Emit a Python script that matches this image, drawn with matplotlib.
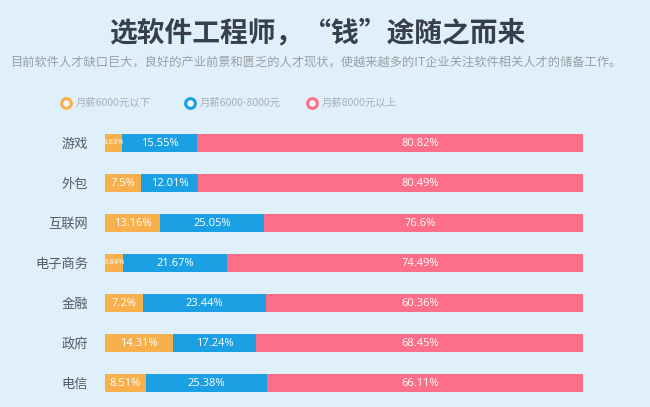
import matplotlib.pyplot as plt, numpy as np

plt.rcParams['font.family'] = ['Noto Sans CJK SC', 'DejaVu Sans']

categories = ['游戏', '外包', '互联网', '电子商务', '金融', '政府', '电信']
low = [3.63, 7.5, 13.16, 3.84, 7.2, 14.31, 8.51]       # 月薪6000元以下
mid = [15.55, 12.01, 25.05, 21.67, 23.44, 17.24, 25.38]  # 月薪6000-8000元
high = [80.82, 80.49, 76.6, 74.49, 60.36, 68.45, 66.11]  # 月薪8000元以上
series_names = ['月薪6000元以下', '月薪6000-8000元', '月薪8000元以上']
colors = ['#f8b04c', '#1ba0e4', '#fd6f89']

title = '选软件工程师，“钱”途随之而来'
subtitle = '目前软件人才缺口巨大，良好的产业前景和匮乏的人才现状，使越来越多的IT企业关注软件相关人才的储备工作。'

low_a, mid_a, high_a = np.array(low), np.array(mid), np.array(high)
tot = low_a + mid_a + high_a
# each bar fills the full width
parts = [low_a / tot * 100, mid_a / tot * 100, high_a / tot * 100]
raw = [low, mid, high]

fig = plt.figure(figsize=(6.5, 4.07), dpi=100)
fig.patch.set_facecolor('#dff0fb')

# overlay in pixel coords for title / legend
ov = fig.add_axes([0, 0, 1, 1])
ov.set_xlim(0, 650); ov.set_ylim(407, 0); ov.axis('off')
ov.text(317, 33, title, ha='center', va='center', fontsize=20, fontweight='bold', color='#363f4a')
ov.text(316, 62, subtitle, ha='center', va='center', fontsize=8.8, color='#9a9fa5')
leg_x = [66, 190, 312]
for x, name, c in zip(leg_x, series_names, colors):
    ov.plot(x, 103, 'o', ms=7, mfc='#eef6fb', mec=c, mew=2.2)
    ov.text(x + 10, 103, name, ha='left', va='center', fontsize=7.5, color='#a9b0b6')

ax = fig.add_axes([105/650, 1 - 403/407, 478/650, 280/407])
ax.set_facecolor('none')
y = np.arange(len(categories))
left = np.zeros(len(categories))
for k, (p, c) in enumerate(zip(parts, colors)):
    ax.barh(y, p, left=left, height=0.46, color=c, edgecolor='none')
    for i in range(len(categories)):
        v = raw[k][i]
        label = f'{v:g}%'
        if k == 2:
            xc = 66
        else:
            xc = left[i] + p[i] / 2
        fs = 5.5 if v < 5 else 8
        ax.text(xc, y[i], label, ha='center', va='center', fontsize=fs, color='white',
                family=['Open Sans', 'DejaVu Sans'])
    left = left + p

ax.set_xlim(0, 100)
ax.set_ylim(len(categories) - 0.5, -0.5)
ax.set_yticks(y)
ax.set_yticklabels(categories, fontsize=9.5, color='#555a60')
ax.tick_params(axis='y', length=0, pad=12)
ax.set_xticks([])
for s in ax.spines.values():
    s.set_visible(False)

plt.savefig('out.png', dpi=100, facecolor=fig.get_facecolor())
plt.close()
